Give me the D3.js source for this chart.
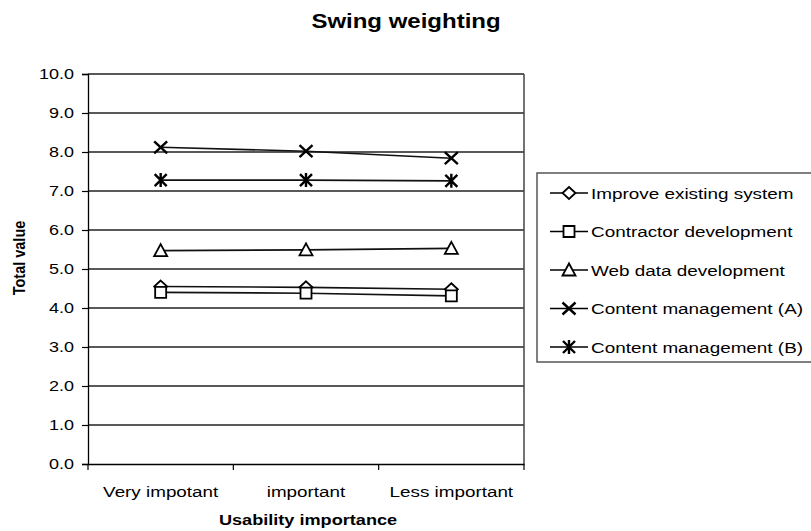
<!DOCTYPE html>
<html>
<head>
<meta charset="utf-8">
<script src="https://cdnjs.cloudflare.com/ajax/libs/d3/7.8.5/d3.min.js"></script>
<style>
  html, body { margin: 0; padding: 0; background: #fff; }
  svg { display: block; font-family: "Liberation Sans", Arial, sans-serif; }
</style>
</head>
<body>
<svg id="chart" width="811" height="531"></svg>
<script>
// Categories along the x axis
const categories = ["Very impotant", "important", "Less important"];

// Series names (legend order)
const seriesNames = [
  "Improve existing system",
  "Contractor development",
  "Web data development",
  "Content management (A)",
  "Content management (B)"
];

// Total value per series, one entry per category
const improveExisting   = [4.55, 4.53, 4.48];
const contractorDev     = [4.40, 4.38, 4.31];
const webDataDev        = [5.47, 5.49, 5.53];
const contentMgmtA      = [8.12, 8.02, 7.84];
const contentMgmtB      = [7.28, 7.28, 7.26];

const yTicks = [0, 1, 2, 3, 4, 5, 6, 7, 8, 9, 10];
const markerShapes = ["diamond", "square", "triangle", "cross", "asterisk"];

const seriesValues = [improveExisting, contractorDev, webDataDev, contentMgmtA, contentMgmtB];
const series = seriesNames.map((name, i) => ({ name, values: seriesValues[i], shape: markerShapes[i] }));

const svg = d3.select("#chart");
const m = { left: 88, right: 524, top: 74, bottom: 464 };

const x = d3.scaleBand().domain(categories).range([m.left, m.right]);
const y = d3.scaleLinear().domain([0, 10]).range([m.bottom, m.top]);

// Text with a wide horizontal set (glyphs stretched sideways)
function label(parent, px, py, str, o) {
  const sx = o.sx || 1.25;
  const rot = o.rotate ? ` rotate(${o.rotate})` : "";
  return parent.append("text")
    .attr("transform", `translate(${px},${py}) scale(${sx},1)${rot}`)
    .attr("text-anchor", o.anchor || "start")
    .attr("font-size", o.size || 14)
    .attr("font-weight", o.weight || "normal")
    .attr("fill", "#000")
    .text(str);
}

// Title
label(svg, 406, 28, "Swing weighting", { size: 20, weight: "bold", anchor: "middle", sx: 1.2 });

// Horizontal gridlines
svg.append("g").selectAll("line").data(yTicks.filter(t => t > 0)).join("line")
  .attr("x1", m.left).attr("x2", m.right)
  .attr("y1", d => y(d)).attr("y2", d => y(d))
  .attr("stroke", "#222").attr("stroke-width", 1.3);

// Plot border (right side)
svg.append("line")
  .attr("x1", m.right).attr("x2", m.right)
  .attr("y1", m.top).attr("y2", m.bottom)
  .attr("stroke", "#444").attr("stroke-width", 1.5);

// Y axis
const yAxis = svg.append("g")
  .attr("transform", `translate(${m.left},0)`)
  .call(d3.axisLeft(y).tickValues(yTicks).tickSize(6).tickFormat(""));
yAxis.select(".domain").attr("stroke", "#000").attr("stroke-width", 1.3);
yAxis.selectAll(".tick line").attr("stroke", "#000").attr("stroke-width", 1.2);
const fmt = d3.format(".1f");
yTicks.forEach(t => {
  label(svg, 74, y(t) + 5, fmt(t), { size: 14.5, anchor: "end", sx: 1.24 });
});

// X axis with ticks between categories
const xAxis = svg.append("g")
  .attr("transform", `translate(0,${m.bottom})`)
  .call(d3.axisBottom(x).tickSize(0).tickFormat(""));
xAxis.select(".domain").attr("stroke", "#000").attr("stroke-width", 1.3);
const bounds = categories.map(c => x(c)).concat([x(categories[categories.length - 1]) + x.bandwidth()]);
xAxis.selectAll(".sep").data(bounds).join("line")
  .attr("class", "sep")
  .attr("x1", d => d).attr("x2", d => d)
  .attr("y1", 0).attr("y2", 6)
  .attr("stroke", "#000").attr("stroke-width", 1.2);
categories.forEach(c => {
  label(svg, x(c) + x.bandwidth() / 2, 497, c, { size: 14.5, anchor: "middle", sx: 1.3 });
});

// Axis titles
label(svg, 308, 525, "Usability importance", { size: 14.5, weight: "bold", anchor: "middle", sx: 1.25 });
label(svg, 25, 258, "Total value", { size: 14.5, weight: "bold", anchor: "middle", sx: 1.2, rotate: -90 });

// Marker drawing
function drawMarker(g, shape) {
  let el;
  if (shape === "diamond") {
    el = g.append("path").attr("d", "M0,-6L6.5,0L0,6L-6.5,0Z");
  } else if (shape === "square") {
    el = g.append("path").attr("d", "M-5.5,-5.5H5.5V5.5H-5.5Z");
  } else if (shape === "triangle") {
    el = g.append("path").attr("d", "M0,-6.5L6.5,5.5L-6.5,5.5Z");
  } else if (shape === "cross") {
    el = g.append("path").attr("d", "M-6.5,-6L6.5,6M6.5,-6L-6.5,6");
  } else {
    el = g.append("path").attr("d", "M-6,-6L6,6M6,-6L-6,6M0,-7L0,7");
  }
  el.attr("stroke", "#000")
    .attr("stroke-width", shape === "cross" || shape === "asterisk" ? 2.4 : 1.8)
    .attr("fill", "#fff");
}

const line = d3.line()
  .x((d, i) => x(categories[i]) + x.bandwidth() / 2)
  .y(d => y(d));

const plot = svg.append("g");
series.forEach(sr => {
  plot.append("path")
    .datum(sr.values)
    .attr("d", line)
    .attr("fill", "none")
    .attr("stroke", "#111")
    .attr("stroke-width", 1.6);
});
series.forEach(sr => {
  sr.values.forEach((v, i) => {
    const g = plot.append("g")
      .attr("transform", `translate(${x(categories[i]) + x.bandwidth() / 2},${y(v)})`);
    drawMarker(g, sr.shape);
  });
});

// Legend
const legend = svg.append("g");
legend.append("rect")
  .attr("x", 537).attr("y", 173).attr("width", 290).attr("height", 189)
  .attr("fill", "#fff").attr("stroke", "#555").attr("stroke-width", 1.5);
series.forEach((sr, i) => {
  const cy = 193 + i * 38.5;
  const g = legend.append("g");
  g.append("line").attr("x1", 550).attr("x2", 588).attr("y1", cy).attr("y2", cy)
    .attr("stroke", "#000").attr("stroke-width", 1.6);
  const mg = g.append("g").attr("transform", `translate(569,${cy})`);
  drawMarker(mg, sr.shape);
  label(g, 591, cy + 5.5, sr.name, { size: 15.5, sx: 1.22 });
});
</script>
</body>
</html>
